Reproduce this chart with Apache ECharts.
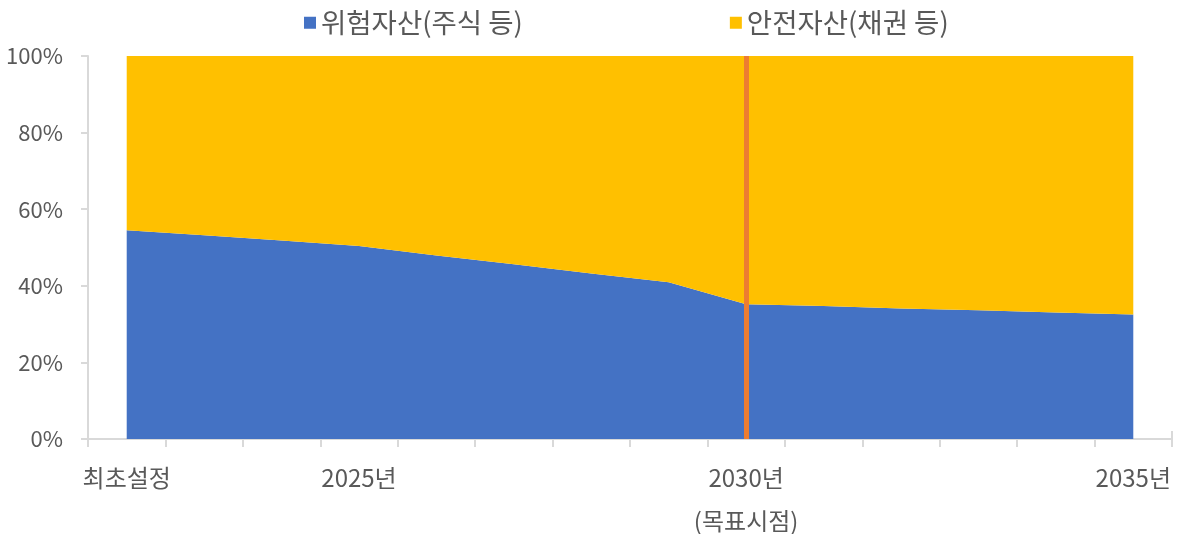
<!DOCTYPE html>
<html>
<head>
<meta charset="utf-8">
<script src="https://cdn.jsdelivr.net/npm/echarts@6/dist/echarts.min.js"></script>
<style>
html,body{margin:0;padding:0;background:#fff;}
#chart{width:1179px;height:534px;}
</style>
</head>
<body>
<div id="chart"></div>
<script>
const categories = ['최초설정','2023년','2024년','2025년','2026년','2027년','2028년','2029년','2030년','2031년','2032년','2033년','2034년','2035년'];
const shownLabels = ['최초설정','2025년','2030년','2035년'];
const targetLabel = '2030년';
const targetNote = '(목표시점)';
const riskName = '위험자산(주식 등)';
const safeName = '안전자산(채권 등)';
const riskAssets = [54.5, 53.2, 51.8, 50.4, 47.9, 45.6, 43.2, 40.9, 35.2, 34.7, 34.1, 33.6, 33.0, 32.5];
const safeAssets = [45.5, 46.8, 48.2, 49.6, 52.1, 54.4, 56.8, 59.1, 64.8, 65.3, 65.9, 66.4, 67.0, 67.5];
const yTicks = [0, 20, 40, 60, 80, 100];

const FONT = '"Noto Sans CJK KR", "Noto Sans", sans-serif';
const GRAY = '#595959';
const AXIS = '#D9D9D9';

const chart = echarts.init(document.getElementById('chart'), null, {renderer: 'canvas'});
chart.setOption({
  animation: false,
  textStyle: {fontFamily: FONT},
  legend: {
    left: 299, top: 4,
    itemWidth: 12, itemHeight: 12, itemGap: 207,
    icon: 'rect',
    textStyle: {fontFamily: FONT, fontSize: 27.5, color: GRAY},
    data: [riskName, safeName]
  },
  grid: {left: 88, right: 7, top: 56, bottom: 95, containLabel: false, outerBoundsMode: 'none'},
  xAxis: [{
    type: 'category', position: 'bottom', data: categories, boundaryGap: true,
    axisLine: {lineStyle: {color: AXIS, width: 2}},
    axisTick: {show: true, inside: true, length: 8, interval: 0, lineStyle: {color: AXIS, width: 2}},
    axisLabel: {
      interval: (i, v) => shownLabels.indexOf(v) >= 0,
      formatter: v => v === targetLabel ? v + '\n' + targetNote : v,
      fontFamily: FONT, fontSize: 24, color: GRAY, margin: 17, lineHeight: 43
    },
    splitLine: {show: false}
  }, {
    type: 'category', position: 'bottom', data: categories, boundaryGap: true,
    axisLine: {show: false},
    axisTick: {show: true, inside: false, length: 8, interval: 0, lineStyle: {color: AXIS, width: 2}},
    axisLabel: {show: false},
    splitLine: {show: false}
  }],
  yAxis: {
    type: 'value', min: yTicks[0], max: yTicks[yTicks.length-1], interval: 20,
    axisLine: {show: true, lineStyle: {color: AXIS, width: 2}},
    axisTick: {show: true, length: 7, lineStyle: {color: AXIS, width: 2}},
    axisLabel: {formatter: '{value}%', fontFamily: FONT, fontSize: 22, color: GRAY, margin: 25},
    splitLine: {show: false}
  },
  series: [{
    name: riskName, type: 'line', stack: 'total', data: riskAssets,
    symbol: 'none', lineStyle: {width: 0}, itemStyle: {color: '#4472C4'},
    areaStyle: {color: '#4472C4', opacity: 1}
  }, {
    name: safeName, type: 'line', stack: 'total', data: safeAssets,
    symbol: 'none', lineStyle: {width: 0}, itemStyle: {color: '#FFC000'},
    areaStyle: {color: '#FFC000', opacity: 1},
    markLine: {
      silent: true, symbol: 'none', label: {show: false},
      lineStyle: {color: '#ED7D31', width: 5, type: 'solid'},
      data: [{xAxis: targetLabel}]
    }
  }]
});
</script>
</body>
</html>
